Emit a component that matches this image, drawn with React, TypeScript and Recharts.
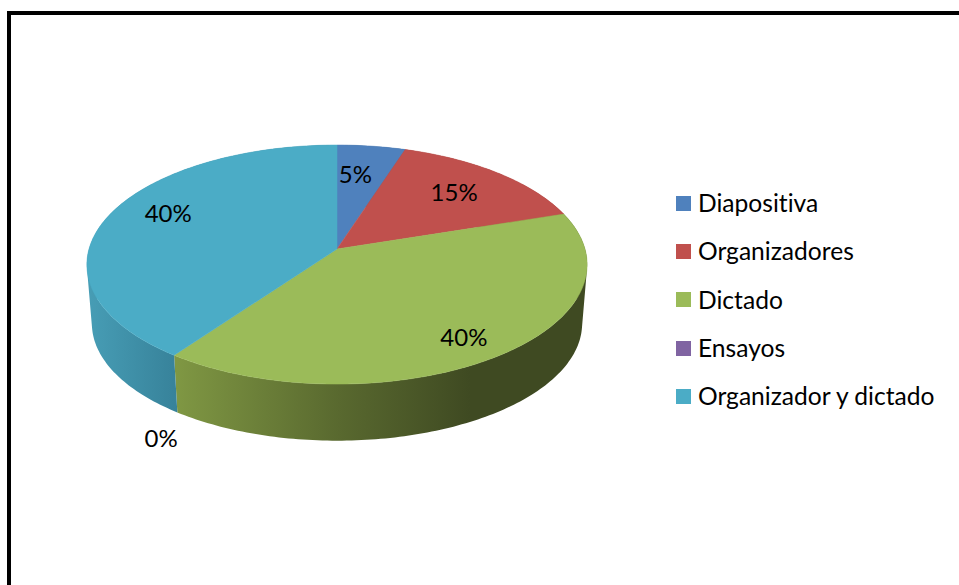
import React from 'react';
import { PieChart, Pie, Legend } from 'recharts';

const CATEGORIES = ['Diapositiva', 'Organizadores', 'Dictado', 'Ensayos', 'Organizador y dictado'];
const VALUES = [5, 15, 40, 0, 40];
const COLORS = ['#4F81BD', '#C0504D', '#9BBB59', '#8064A2', '#4BACC6'];
const WALL_FILLS = ['#3b618e', '#903c3a', 'url(#wallGreen)', '#604b7a', 'url(#wallTeal)'];
// label position relative to the slice's rim midpoint
const LABEL_OFFSETS = [[-16, 27], [-43.5, 19], [-36, -19], [-13, 82], [58, -2]];

const FONT = 'Lato, Carlito, sans-serif';
const data = CATEGORIES.map((name, i) => ({ name, value: VALUES[i], fill: COLORS[i], wallFill: WALL_FILLS[i] }));

// perspective projection of the flat pie onto the tilted disc
const SQUASH = 0.482;
const PERSPECTIVE = 0.13;
const DEPTH = 59;
const BOTTOM_SCALE = 0.98;
const RIM_SHIFT = 15.5;

const project = (cx: number, cy: number, r: number, angle: number, f = 1, bottom = false) => {
  const t = ((90 - angle) * Math.PI) / 180;
  const w = 1 + PERSPECTIVE * f * Math.cos(t);
  const x = (r * f * Math.sin(t)) / w;
  const y = (-r * SQUASH * f * Math.cos(t) - RIM_SHIFT) / w;
  if (bottom) return [cx + x * BOTTOM_SCALE, cy + RIM_SHIFT + DEPTH + y * BOTTOM_SCALE];
  return [cx + x, cy + RIM_SHIFT + y];
};

const arcAngles = (start: number, end: number) => {
  const n = Math.max(1, Math.ceil(Math.abs(end - start)));
  return Array.from({ length: n + 1 }, (_, i) => start + ((end - start) * i) / n);
};

const toPath = (points: number[][]) =>
  'M' + points.map(p => `${p[0].toFixed(2)},${p[1].toFixed(2)}`).join('L') + 'Z';

// same winding for every quad so that nonzero fill gives their union
const windUp = (points: number[][]) => {
  let area = 0;
  points.forEach((p, i) => {
    const q = points[(i + 1) % points.length];
    area += p[0] * q[1] - q[0] * p[1];
  });
  return area < 0 ? [...points].reverse() : points;
};

const TopFace = (props: any) => {
  const { cx, cy, outerRadius, startAngle, endAngle, fill } = props;
  if (startAngle === endAngle) return null;
  const rim = arcAngles(startAngle, endAngle).map(a => project(cx, cy, outerRadius, a));
  return <path d={toPath([[cx, cy], ...rim])} fill={fill} stroke={fill} strokeWidth={0.5} />;
};

const WallFace = (props: any) => {
  const { cx, cy, outerRadius, startAngle, endAngle, payload } = props;
  if (startAngle === endAngle) return null;
  const angles = arcAngles(startAngle, endAngle);
  const quads = angles.slice(1).map((a, i) => toPath(windUp([
    project(cx, cy, outerRadius, angles[i]),
    project(cx, cy, outerRadius, a),
    project(cx, cy, outerRadius, a, 1, true),
    project(cx, cy, outerRadius, angles[i], 1, true),
  ])));
  return <path d={quads.join('')} fill={payload.wallFill} stroke="none" />;
};

const SliceLabel = (props: any) => {
  const { cx, cy, outerRadius, midAngle, index, value } = props;
  const [x, y] = project(cx, cy, outerRadius, midAngle);
  const [dx, dy] = LABEL_OFFSETS[index];
  return (
    <text x={x + dx} y={y + dy} textAnchor="middle" dominantBaseline="central"
      fontFamily={FONT} fontSize={24} fill="#000">
      {`${value}%`}
    </text>
  );
};

const LegendList = ({ payload }: any) => (
  <div>
    {(payload || []).filter((item: any) => item.type !== 'none').map((item: any) => (
      <div key={item.value} style={{ display: 'flex', alignItems: 'center', height: 48.3 }}>
        <span style={{ width: 15, height: 15, background: item.payload.fill, marginRight: 7 }} />
        <span style={{ fontFamily: FONT, fontSize: 24.6, fontVariantLigatures: 'none', lineHeight: '30px', color: '#000', whiteSpace: 'nowrap' }}>{item.value}</span>
      </div>
    ))}
  </div>
);

export default function App() {
  return (
    <div style={{ position: 'fixed', left: 0, top: 0, width: 959, height: 585, overflow: 'hidden', background: '#fff' }}>
      <div style={{ position: 'absolute', left: 7, top: 11, width: 960, height: 600, borderLeft: '4px solid #000', borderTop: '4px solid #000' }} />
      <div style={{ position: 'absolute', left: 0, top: 0 }}>
        <PieChart width={959} height={585} margin={{ top: 0, right: 0, bottom: 0, left: 0 }}>
          <defs>
            <linearGradient id="wallGreen" gradientUnits="userSpaceOnUse" x1={177} x2={470} y1={0} y2={0}>
              <stop offset="0%" stopColor="#7f9743" />
              <stop offset="55%" stopColor="#59692f" />
              <stop offset="100%" stopColor="#3f4a22" />
            </linearGradient>
            <linearGradient id="wallTeal" gradientUnits="userSpaceOnUse" x1={88} x2={177} y1={0} y2={0}>
              <stop offset="0%" stopColor="#479db5" />
              <stop offset="100%" stopColor="#37829a" />
            </linearGradient>
          </defs>
          <Pie data={data} dataKey="value" nameKey="name" cx={337} cy={249} outerRadius={248}
            startAngle={90} endAngle={-270} shape={WallFace} legendType="none" stroke="none" isAnimationActive={false} />
          <Pie data={data} dataKey="value" nameKey="name" cx={337} cy={249} outerRadius={248}
            startAngle={90} endAngle={-270} shape={TopFace} label={SliceLabel} labelLine={false} stroke="none" isAnimationActive={false} />
          <Legend content={LegendList} itemSorter={null} wrapperStyle={{ position: 'absolute', left: 676, top: 179, width: 283 }} />
        </PieChart>
      </div>
    </div>
  );
}
